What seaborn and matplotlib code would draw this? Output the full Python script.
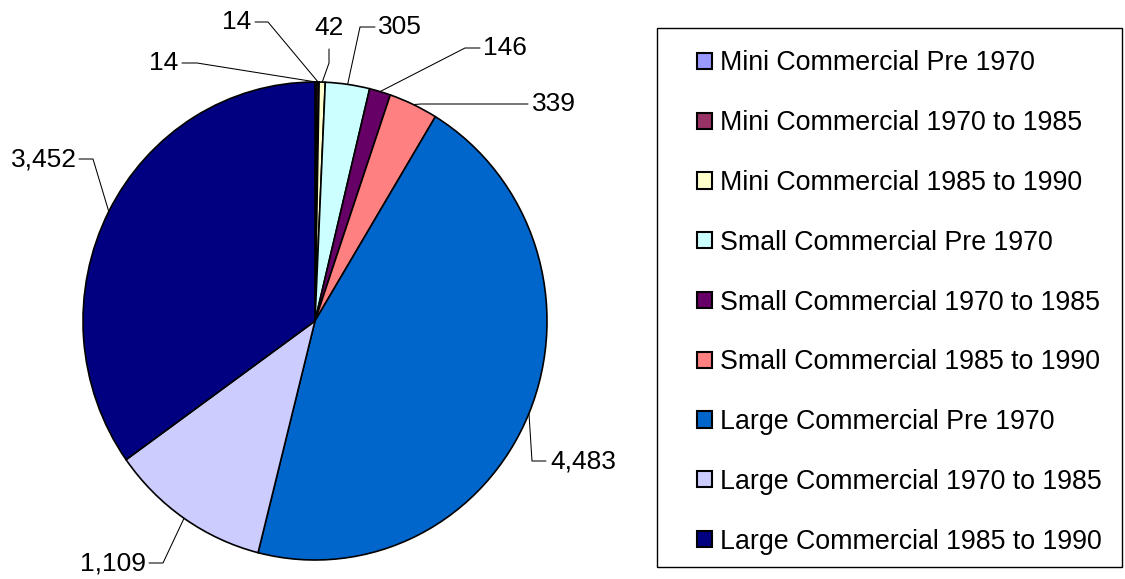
import matplotlib
matplotlib.use("Agg")
import matplotlib.pyplot as plt
import seaborn as sns
import numpy as np
from matplotlib.patches import Rectangle

categories = [
    "Mini Commercial Pre 1970",
    "Mini Commercial 1970 to 1985",
    "Mini Commercial 1985 to 1990",
    "Small Commercial Pre 1970",
    "Small Commercial 1970 to 1985",
    "Small Commercial 1985 to 1990",
    "Large Commercial Pre 1970",
    "Large Commercial 1970 to 1985",
    "Large Commercial 1985 to 1990",
]
values = [14, 14, 42, 305, 146, 339, 4483, 1109, 3452]
colors = ["#9999FF", "#993366", "#FFFFCC", "#CCFFFF", "#660066",
          "#FF8080", "#0066CC", "#CCCCFF", "#000080"]

# label layout in image pixels (x from left, y from top): text pos, ha, leader points (text side -> elbow)
label_layout = [
    ((178, 63), "right", [(182, 63), (197, 63)]),
    ((251, 22), "right", [(255, 22), (268, 22)]),
    ((329, 28), "center", [(329, 49), (329, 63)]),
    ((378, 27), "left", [(375, 27), (360, 27)]),
    ((483, 48), "left", [(480, 48), (465, 48)]),
    ((532, 104), "left", [(528, 104), (421, 104)]),
    ((550, 461), "left", [(546, 461), (532, 461)]),
    ((146, 563), "right", [(149, 563), (163, 563)]),
    ((77, 159), "right", [(79, 159), (93, 159)]),
]

W, H, DPI = 1125, 579, 100
sns.set_style("white")
plt.rcParams["font.family"] = ["Liberation Sans", "DejaVu Sans"]
plt.rcParams["text.color"] = "black"
palette = sns.color_palette(colors)

fig = plt.figure(figsize=(W / DPI, H / DPI), dpi=DPI)
fig.patch.set_facecolor("white")

# pie axes placed by pixel box
pl, pr, pt, pb = 83, 547, 82, 560
ax = fig.add_axes([pl / W, 1 - pb / H, (pr - pl) / W, (pb - pt) / H])
wedges, _ = ax.pie(values, colors=palette, startangle=90, counterclock=False,
                   radius=1.0,
                   wedgeprops=dict(edgecolor="black", linewidth=1.2))
ax.set_aspect("auto")
ax.set_xlim(-1, 1)
ax.set_ylim(-1, 1)
ax.axis("off")

fig.canvas.draw()
inv = ax.transData.inverted()

def px2data(p):
    return inv.transform((p[0], H - p[1]))

total = float(sum(values))
cum = 0.0
for v, (tpos, ha, pts) in zip(values, label_layout):
    mid = (cum + v / 2) / total * 2 * np.pi
    cum += v
    anchor = (np.sin(mid), np.cos(mid))
    path = [px2data(p) for p in pts] + [anchor]
    xs = [p[0] for p in path]
    ys = [p[1] for p in path]
    ax.plot(xs, ys, color="black", linewidth=0.75, clip_on=False)
    tx, ty = px2data(tpos)
    ax.text(tx, ty, f"{v:,}", ha=ha, va="center", fontsize=19, color="black",
            clip_on=False)

# legend frame
fig.patches.append(Rectangle((657 / W, 1 - 567 / H), (1122 - 657) / W, (567 - 28) / H,
                             transform=fig.transFigure, facecolor="none",
                             edgecolor="black", linewidth=1.0))
leg = fig.legend(wedges, categories, loc="center left",
                 bbox_to_anchor=(697 / W, 1 - 302.5 / H), frameon=False,
                 fontsize=19.3, handlelength=0.55, handleheight=0.55,
                 handletextpad=0.3, labelspacing=1.26, borderpad=0,
                 borderaxespad=0)
for t in leg.get_texts():
    t.set_color("black")
for h in leg.legend_handles:
    h.set_edgecolor("black")
    h.set_linewidth(1.5)

fig.savefig("out.png", dpi=DPI)
